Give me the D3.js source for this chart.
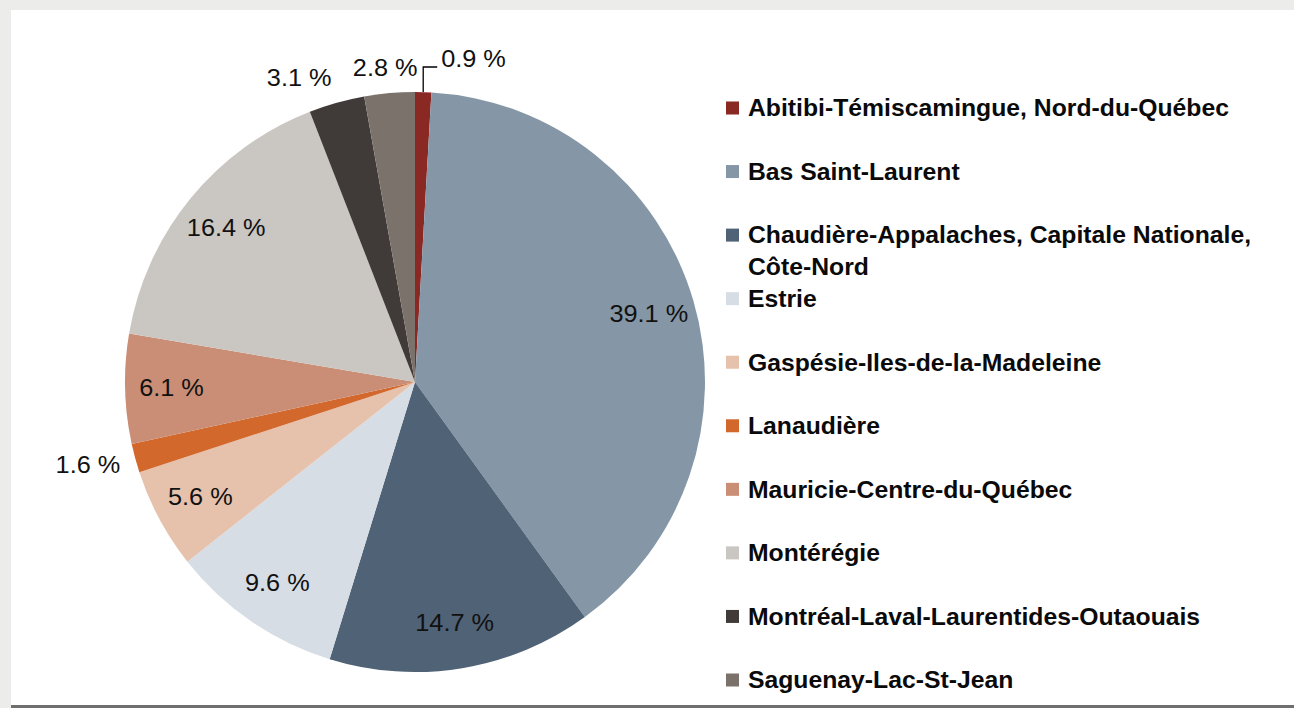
<!DOCTYPE html>
<html><head><meta charset="utf-8">
<script src="https://cdn.jsdelivr.net/npm/d3@7"></script>
<style>
html,body{margin:0;padding:0;background:#ebebea;}
svg{display:block;}
</style></head>
<body>
<svg id="chart" width="1294" height="708"></svg>
<script>
const categories = ["Abitibi-Témiscamingue, Nord-du-Québec","Bas Saint-Laurent","Chaudière-Appalaches, Capitale Nationale,|Côte-Nord","Estrie","Gaspésie-Iles-de-la-Madeleine","Lanaudière","Mauricie-Centre-du-Québec","Montérégie","Montréal-Laval-Laurentides-Outaouais","Saguenay-Lac-St-Jean"];
const values = [0.9, 39.1, 14.7, 9.6, 5.6, 1.6, 6.1, 16.4, 3.1, 2.8];
const colors = ["#8a2824","#8596a6","#506275","#d6dde5","#e6c1ac","#d3682d","#c98e75","#cac6c1","#403b38","#7b726c"];

const svg = d3.select("#chart");
// background panel
const bg = svg.append("g");
bg.append("rect").attr("x",0).attr("y",0).attr("width",1294).attr("height",708).attr("fill","#ececeb");
bg.append("rect").attr("x",11).attr("y",10).attr("width",1283).attr("height",696).attr("fill","#ffffff");
bg.append("rect").attr("x",11).attr("y",705).attr("width",1283).attr("height",3).attr("fill","#6f6f6f");

const cx = 415, cy = 382, R = 290;
const pie = d3.pie().sort(null).value(d => d.v);
const data = categories.map((c,i) => ({c, v: values[i], col: colors[i]}));
const arcs = pie(data);
const arc = d3.arc().innerRadius(0).outerRadius(R);

const g = svg.append("g").attr("transform", `translate(${cx},${cy})`);
g.selectAll("path.slice").data(arcs).join("path")
  .attr("class","slice")
  .attr("d", arc)
  .attr("fill", d => d.data.col);

const fmt = v => v.toFixed(1) + " %";
const labelFont = "'Liberation Sans', Arial, sans-serif";
const sx = 1.1;

function polar(a, r){ return [Math.sin(a)*r, -Math.cos(a)*r]; }

function addLabel(p, anchor, txt){
  return g.append("text")
    .attr("transform", `translate(${p[0]},${p[1]}) scale(${sx},1)`)
    .attr("text-anchor", anchor)
    .attr("dy","0.36em")
    .attr("font-family", labelFont)
    .attr("font-size", 23)
    .attr("fill","#111")
    .text(txt);
}

const placed = [];
const order = arcs.map((d,i)=>i).reverse();
order.forEach(i => {
  const d = arcs[i];
  const mid = (d.startAngle + d.endAngle)/2;
  if (d.data.v < 1.2) {
    const p0 = polar(mid, R);
    const yTop = -R - 25;
    g.append("path")
      .attr("d", `M${p0[0]},${p0[1]} V${yTop} H${p0[0]+14}`)
      .attr("fill","none").attr("stroke","#000").attr("stroke-width",1.3);
    addLabel([p0[0]+18, yTop - 8], "start", fmt(d.data.v));
  } else if (d.data.v < 5) {
    const w = 68, h = 22;
    const s = Math.sin(mid), c = Math.cos(mid);
    let x = s*(R + 15 + w/2), y = -c*(R + 15 + h/2);
    // avoid overlap with already placed outside labels
    placed.forEach(b => {
      if (Math.abs(b.x - x) < w + 12 && Math.abs(b.y - y) < h) {
        x = b.x - (w + 18);
      }
    });
    placed.push({x, y});
    addLabel([x, y], "middle", fmt(d.data.v));
  } else {
    addLabel(polar(mid, R*0.84), "middle", fmt(d.data.v));
  }
});

// legend
const ly = d3.scalePoint().domain(categories).range([108, 680]);
const leg = svg.append("g");
const legItems = leg.selectAll("g").data(data).join("g")
  .attr("transform", d => `translate(726,${ly(d.c)})`);
legItems.append("rect").attr("x",0).attr("y",-6.5).attr("width",13).attr("height",13).attr("fill", d => d.col);
legItems.each(function(d){
  const lines = d.c.split("|");
  const t = d3.select(this).append("text")
    .attr("transform","translate(22,0) scale(1.076,1)")
    .attr("font-family", labelFont)
    .attr("font-weight","bold")
    .attr("font-size", 23)
    .attr("fill","#0a0a0a");
  lines.forEach((ln,k) => {
    t.append("tspan").attr("x",0).attr("y", k*32).attr("dy","0.36em").text(ln);
  });
});
</script>
</body></html>
